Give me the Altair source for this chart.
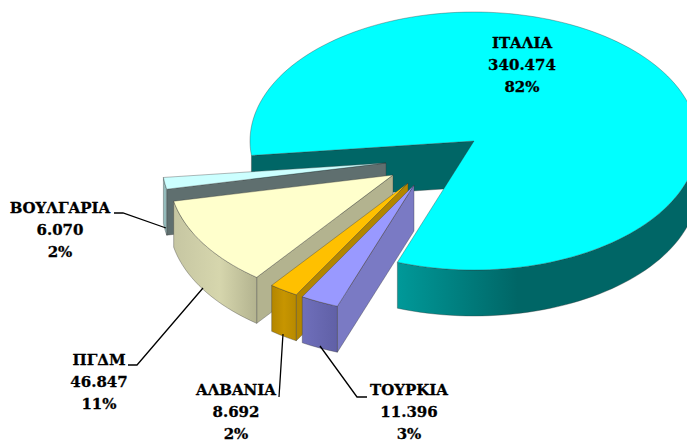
import math
import altair as alt
import pandas as pd

# ---- data
names = ["ΤΟΥΡΚΙΑ", "ΑΛΒΑΝΙΑ", "ΠΓΔΜ", "ΒΟΥΛΓΑΡΙΑ", "ΙΤΑΛΙΑ"]
values = [11396, 8692, 46847, 6070, 340474]
labels_value = ["11.396", "8.692", "46.847", "6.070", "340.474"]
labels_pct = ["3%", "2%", "11%", "2%", "82%"]

# ---- styling / layout
W, H, M = 687, 443, 8
RX, RY, DEPTH = 224, 129, 46
START = 110.0
apex = {"ΤΟΥΡΚΙΑ": (414, 185), "ΑΛΒΑΝΙΑ": (408, 183), "ΠΓΔΜ": (393, 175),
        "ΒΟΥΛΓΑΡΙΑ": (386, 163), "ΙΤΑΛΙΑ": (474, 141)}
top_c = {"ΤΟΥΡΚΙΑ": "#9999FF", "ΑΛΒΑΝΙΑ": "#FFC000", "ΠΓΔΜ": "#FFFFCC",
         "ΒΟΥΛΓΑΡΙΑ": "#CCFFFF", "ΙΤΑΛΙΑ": "#00FFFF"}
wall_c = {"ΤΟΥΡΚΙΑ": "#7A7AC4", "ΑΛΒΑΝΙΑ": "#B38600", "ΠΓΔΜ": "#B3B38F",
          "ΒΟΥΛΓΑΡΙΑ": "#5F6F6F", "ΙΤΑΛΙΑ": "#006666"}
side_stops = {"ΤΟΥΡΚΙΑ": [(0, "#6F6FBB"), (1, "#6060A6")],
              "ΑΛΒΑΝΙΑ": [(0, "#B38600"), (0.5, "#C79500"), (1, "#B88A00")],
              "ΠΓΔΜ": [(0, "#C6C6A2"), (0.55, "#D6D6AD"), (1, "#B3B38F")],
              "ΒΟΥΛΓΑΡΙΑ": [(0, "#99C2C2"), (1, "#8FB3B3")],
              "ΙΤΑΛΙΑ": [(0, "#009999"), (0.4, "#006666"), (1, "#006666")]}
label_pos = {"ΤΟΥΡΚΙΑ": (409, 390), "ΑΛΒΑΝΙΑ": (236, 390), "ΠΓΔΜ": (99, 360),
             "ΒΟΥΛΓΑΡΙΑ": (60, 208), "ΙΤΑΛΙΑ": (522, 43)}
leaders = {"ΒΟΥΛΓΑΡΙΑ": [(114, 213), (123, 213), (166, 228)],
           "ΠΓΔΜ": [(203, 288), (137, 365), (128, 365)],
           "ΑΛΒΑΝΙΑ": [(283, 334), (279, 397)],
           "ΤΟΥΡΚΙΑ": [(320, 346), (357, 397), (367, 397)]}
LINE_H = 22
FONT = "DejaVu Serif"
FS = 15

total = sum(values)


def pt(c, t, dy=0):
    return (c[0] + RX * math.cos(math.radians(t)), c[1] + RY * math.sin(math.radians(t)) + dy)


def arc(c, a, b, dy=0):
    n = max(2, int(abs(b - a) / 2) + 1)
    return [pt(c, a + (b - a) * i / (n - 1), dy) for i in range(n)]


def face(points, fill, stroke="#333333"):
    ring = [list(p) for p in points] + [list(points[0])]
    return alt.Chart(alt.Data(values=[{"type": "Feature", "properties": {},
                                       "geometry": {"type": "Polygon", "coordinates": [ring]}}])
                     ).mark_geoshape(fill=fill, stroke=stroke, strokeWidth=0.5, strokeOpacity=0.7
                                     ).project(type="identity", scale=1, translate=[-M, -M])


def grad(stops):
    return alt.LinearGradient(gradient="linear", x1=0, x2=1, y1=0, y2=0,
                              stops=[alt.GradientStop(offset=o, color=c) for o, c in stops])


# angular extents follow the values
ext, cur = {}, START
for n, v in zip(names, values):
    ext[n] = (cur, cur + v / total * 360)
    cur = ext[n][1]

layers = []
for n in ["ΙΤΑΛΙΑ", "ΒΟΥΛΓΑΡΙΑ", "ΠΓΔΜ", "ΑΛΒΑΝΙΑ", "ΤΟΥΡΚΙΑ"]:
    c, (a, b) = apex[n], ext[n]
    # wall on the low-angle edge
    e = pt(c, a)
    wall = [c, e, (e[0], e[1] + DEPTH), (c[0], c[1] + DEPTH)]
    layers.append(face(wall, wall_c[n]))
    # outer rim
    if n == "ΙΤΑΛΙΑ":
        s0, s1 = 360.0, b
    else:
        s0, s1 = a, b
    rim = arc(c, s0, s1) + arc(c, s1, s0, DEPTH)
    layers.append(face(rim, grad(side_stops[n])))
    # top
    layers.append(face([c] + arc(c, a, b), top_c[n]))

xs = alt.Scale(domain=[M, W])
ys = alt.Scale(domain=[M, H], range=[0, H - M])

for n, pts in leaders.items():
    d = pd.DataFrame({"px": [p[0] for p in pts], "py": [p[1] for p in pts], "i": range(len(pts))})
    layers.append(alt.Chart(d).mark_line(color="#000000", strokeWidth=1.3).encode(
        x=alt.X("px:Q", scale=xs, axis=None),
        y=alt.Y("py:Q", scale=ys, axis=None),
        order="i:O"))

rows = []
for n, lv, lp in zip(names, labels_value, labels_pct):
    x0, y0 = label_pos[n]
    for k, s in enumerate([n, lv, lp]):
        rows.append({"t": s, "px": x0, "py": y0 + k * LINE_H})
layers.append(alt.Chart(pd.DataFrame(rows)).mark_text(
    font=FONT, fontWeight="bold", fontSize=FS, color="#000000", align="center", baseline="middle",
    stroke="#000000", strokeWidth=0.3
).encode(
    x=alt.X("px:Q", scale=xs, axis=None),
    y=alt.Y("py:Q", scale=ys, axis=None),
    text="t:N"))

chart = alt.layer(*layers).properties(
    width=W - M, height=H - M, padding=0,
    autosize=alt.AutoSizeParams(type="none"),
    background="#FFFFFF",
).configure_view(stroke=None)

chart.save("out.html", embed_options={"renderer": "svg", "actions": False})
